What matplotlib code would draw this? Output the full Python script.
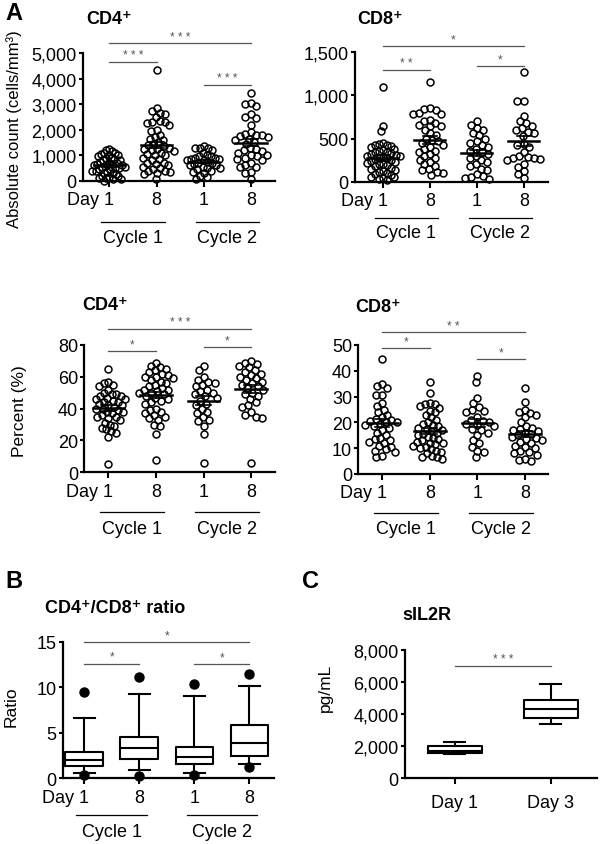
import numpy as np
import matplotlib.pyplot as plt
from matplotlib.ticker import FuncFormatter
from matplotlib.transforms import ScaledTranslation

plt.rcParams['font.family'] = ['Liberation Sans', 'DejaVu Sans']

#Data
x_labels = ['Day 1', '8', '1', '8']
cycle_labels = ['Cycle 1', 'Cycle 2']

cd4_abs_c1d1 = [1250, 1200, 1150, 1100, 1100, 1050, 1000, 1000, 950, 900, 900, 850, 800, 800, 750,
                700, 700, 650, 650, 600, 600, 600, 550, 550, 500, 500, 450, 450, 400, 400, 350,
                300, 300, 250, 200, 200, 150, 100, 100, 50, 50, 0]
cd4_abs_c1d8 = [4350, 2850, 2750, 2650, 2600, 2500, 2350, 2300, 2300, 2250, 2200, 2000, 1950, 1800,
                1700, 1650, 1600, 1500, 1450, 1400, 1350, 1300, 1250, 1250, 1200, 1150, 1100, 1050,
                1000, 1000, 900, 850, 800, 700, 700, 650, 600, 550, 500, 450, 400, 400, 350, 300, 250, 50]
cd4_abs_c2d1 = [1350, 1300, 1300, 1300, 1200, 1100, 1000, 950, 950, 900, 900, 850, 850, 800, 800,
                750, 700, 700, 650, 600, 600, 550, 500, 500, 450, 400, 350, 300, 200, 150, 50]
cd4_abs_c2d8 = [3450, 3050, 3000, 2950, 2600, 2500, 2450, 2200, 1900, 1850, 1800, 1800, 1750, 1700,
                1650, 1600, 1500, 1450, 1300, 1250, 1200, 1150, 1100, 1000, 1000, 950, 900, 850,
                800, 700, 600, 550, 550, 350, 300, 50]

cd8_abs_c1d1 = [1100, 650, 590, 450, 440, 430, 420, 410, 400, 380, 370, 360, 350, 340, 330, 320,
                310, 300, 300, 290, 280, 270, 260, 250, 240, 230, 220, 200, 200, 190, 180, 160,
                150, 140, 120, 110, 100, 90, 80, 60, 50, 40, 30, 20]
cd8_abs_c1d8 = [1160, 850, 840, 830, 800, 790, 780, 720, 700, 680, 660, 650, 640, 600, 560, 540,
                500, 480, 470, 450, 430, 400, 380, 360, 340, 320, 300, 280, 250, 230, 200, 180,
                150, 130, 110, 100, 80]
cd8_abs_c2d1 = [700, 660, 620, 600, 560, 540, 500, 470, 450, 420, 400, 380, 360, 340, 320, 300,
                280, 250, 230, 200, 180, 150, 130, 90, 70, 50, 40, 30]
cd8_abs_c2d8 = [1270, 940, 940, 760, 700, 680, 640, 620, 600, 580, 560, 530, 440, 430, 400, 350,
                300, 290, 280, 270, 260, 250, 200, 170, 120, 90, 40]

cd4_pct_c1d1 = [65, 57, 56, 55, 54, 52, 50, 49, 49, 48, 48, 47, 46, 46, 45, 44, 44, 43, 42, 42, 41,
                40, 40, 39, 38, 38, 37, 36, 35, 35, 34, 33, 31, 30, 29, 28, 27, 26, 25, 22, 5]
cd4_pct_c1d8 = [69, 67, 66, 65, 64, 63, 62, 61, 60, 60, 59, 58, 57, 56, 55, 54, 53, 52, 52, 51, 50,
                50, 49, 48, 47, 46, 45, 44, 43, 40, 39, 38, 37, 36, 35, 34, 33, 30, 29, 24, 8]
cd4_pct_c2d1 = [67, 64, 60, 58, 57, 56, 55, 54, 52, 51, 50, 49, 48, 47, 45, 43, 42, 40, 38, 37,
                35, 33, 32, 29, 24, 6]
cd4_pct_c2d8 = [70, 69, 68, 67, 66, 64, 63, 62, 61, 60, 59, 58, 57, 56, 55, 54, 53, 52, 50, 49,
                48, 46, 44, 42, 41, 38, 36, 35, 34, 6]

cd8_pct_c1d1 = [44.5, 35, 34, 33.5, 30.5, 30.5, 27.5, 26.5, 25, 24, 23, 22, 21.5, 21, 20.5, 20, 20,
                19.5, 19, 18.5, 18, 17, 16, 15, 14, 13.5, 13, 12.5, 12, 11, 10.5, 9.5, 9, 8.5, 7, 6.5]
cd8_pct_c1d8 = [35.5, 31.5, 27.5, 27, 27, 26.5, 25.5, 24.5, 24, 23, 22, 21, 20, 19.5, 19, 18.5, 18,
                17.5, 17, 16.5, 16, 15.5, 15, 14.5, 14, 13.5, 13, 12.5, 12, 12, 11.5, 11, 10.5, 10,
                9.5, 9, 8.5, 8, 7, 6.5, 6.5, 6]
cd8_pct_c2d1 = [38, 35.5, 29.5, 27.5, 26, 25, 24.5, 24, 22, 21, 20.5, 20, 19.5, 19, 18.5, 17.5, 17,
                16, 15, 13, 12, 10.5, 9, 8.5, 6.5]
cd8_pct_c2d8 = [33.5, 28, 25, 24, 23.5, 23, 22, 20, 18.5, 18, 17.5, 17, 16.5, 16, 15.5, 15, 14.5,
                14, 13.5, 13, 12.5, 12, 11, 10.5, 10, 9, 8.5, 8, 7.5, 6, 5.5, 5]

#Box plot summaries (whisker low, q1, median, q3, whisker high) and outliers
ratio_whislo = [0.6, 0.95, 0.6, 1.6]
ratio_q1 = [1.3, 2.1, 1.6, 2.4]
ratio_med = [2.0, 3.3, 2.35, 3.85]
ratio_q3 = [2.85, 4.55, 3.4, 5.85]
ratio_whishi = [6.6, 9.3, 9.0, 10.1]
ratio_fliers = [[9.5, 0.35], [11.1, 0.25], [10.4, 0.35], [11.5, 1.2]]

sil2r_labels = ['Day 1', 'Day 3']
sil2r_whislo = [1500, 3400]
sil2r_q1 = [1600, 3750]
sil2r_med = [1700, 4350]
sil2r_q3 = [2000, 4900]
sil2r_whishi = [2250, 5850]

W, H = 600, 845
fig = plt.figure(figsize=(6, 8.45), dpi=100)
GRAY = '#555555'


def rect(l, t, r, b):
    return [l / W, 1 - b / H, (r - l) / W, (b - t) / H]


def fy(py):
    return 1 - py / H


def style(ax, ylim, yticks, fmt=None):
    for s in ['top', 'right']:
        ax.spines[s].set_visible(False)
    for s in ['left', 'bottom']:
        ax.spines[s].set_linewidth(1.6)
    ax.set_ylim(*ylim)
    ax.set_yticks(yticks)
    if fmt:
        ax.yaxis.set_major_formatter(FuncFormatter(lambda v, p: '{:,.0f}'.format(v)))
    ax.tick_params(axis='y', length=3, width=1.5, pad=1.5, labelsize=13)
    ax.tick_params(axis='x', length=4, width=1.5, pad=3.5, labelsize=13)


def day_ticks(ax):
    ax.set_xticks([1, 2, 3, 4])
    ax.set_xticklabels(x_labels)
    lab = ax.get_xticklabels()[0]
    lab.set_horizontalalignment('right')
    lab.set_transform(lab.get_transform() + ScaledTranslation(0.05, 0, fig.dpi_scale_trans))


def cycles(ax, y_line, y_text, half=0.67):
    inv = fig.transFigure.inverted()
    for k, c in enumerate([1.5, 3.5]):
        x0 = inv.transform(ax.transData.transform((c - half, 0)))[0]
        x1 = inv.transform(ax.transData.transform((c + half, 0)))[0]
        xc = inv.transform(ax.transData.transform((c, 0)))[0]
        fig.add_artist(plt.Line2D([x0, x1], [fy(y_line), fy(y_line)], color='black', lw=0.9,
                                  transform=fig.transFigure))
        fig.text(xc, fy(y_text), cycle_labels[k], ha='center', va='center', fontsize=13)


def sig(ax, x1, x2, y, stars):
    ax.plot([x1, x2], [y, y], color=GRAY, lw=0.9, clip_on=False)
    ax.annotate(' '.join(stars), ((x1 + x2) / 2, y), xytext=(0, 0.5), textcoords='offset points',
                ha='center', va='bottom', fontsize=8.5, color=GRAY, annotation_clip=False)


def swarm(ax, vals, c, d=6.6, maxw=17.0):
    p0 = ax.transData.transform((0, 0))
    sx = ax.transData.transform((1, 0))[0] - p0[0]
    sy = ax.transData.transform((0, 1))[1] - p0[1]
    placed = []
    offs = np.zeros(len(vals))
    order = np.argsort(vals)[::-1]
    for i in order:
        y = vals[i] * sy
        bad = []
        for (px, py) in placed:
            dy = y - py
            if abs(dy) < d:
                w = np.sqrt(d * d - dy * dy)
                bad.append((px - w, px + w))
        cands = [0.0] + [b[0] for b in bad] + [b[1] for b in bad]
        cands = sorted(cands, key=abs)
        for cx in cands:
            if all(not (lo + 1e-6 < cx < hi - 1e-6) for lo, hi in bad):
                break
        placed.append((cx, y))
        offs[i] = cx
    #squeeze wide swarms so points overlap like the original
    widest = np.abs(offs).max()
    if widest > maxw:
        offs = offs * maxw / widest
    return c + offs / sx


def scatter_panel(ax, groups):
    for k, g in enumerate(groups):
        c = k + 1
        v = np.array(g, dtype=float)
        xs = swarm(ax, v, c)
        ax.plot(xs, v, 'o', mfc='none', mec='black', mew=1.1, ms=5, clip_on=False)
        m = v.mean()
        se = v.std(ddof=1) / np.sqrt(len(v))
        ax.plot([c - 0.33, c + 0.33], [m, m], color='black', lw=1.8, zorder=3)
        ax.plot([c, c], [m - se, m + se], color='black', lw=1.2, zorder=3)
        for e in [m - se, m + se]:
            ax.plot([c - 0.15, c + 0.15], [e, e], color='black', lw=1.2, zorder=3)


#Panel A: absolute counts and percentages
axes_info = [
    (rect(83, 54.3, 275, 181.7), (0.443, 4.51), (0, 5000), [0, 1000, 2000, 3000, 4000, 5000], True,
     [cd4_abs_c1d1, cd4_abs_c1d8, cd4_abs_c2d1, cd4_abs_c2d8],
     [(1, 4, 5390, '***'), (1, 2, 4670, '***'), (3, 4, 3770, '***')], (223, 239), 'CD4⁺', (86, 19)),
    (rect(355, 53.3, 548.3, 182.7), (0.404, 4.52), (0, 1500), [0, 500, 1000, 1500], True,
     [cd8_abs_c1d1, cd8_abs_c1d8, cd8_abs_c2d1, cd8_abs_c2d8],
     [(1, 4, 1570, '*'), (1, 2, 1300, '**'), (3, 4, 1345, '*')], (219, 234), 'CD8⁺', (357, 19)),
    (rect(84.3, 346, 275, 473.3), (0.496, 4.5), (0, 80), [0, 20, 40, 60, 80], False,
     [cd4_pct_c1d1, cd4_pct_c1d8, cd4_pct_c2d1, cd4_pct_c2d8],
     [(1, 4, 90, '***'), (1, 2, 76.2, '*'), (3, 4, 78.6, '*')], (513, 530), 'CD4⁺', (82, 306)),
    (rect(358.3, 346, 548.3, 475), (0.496, 4.49), (0, 50), [0, 10, 20, 30, 40, 50], False,
     [cd8_pct_c1d1, cd8_pct_c1d8, cd8_pct_c2d1, cd8_pct_c2d8],
     [(1, 4, 54.9, '**'), (1, 2, 48.7, '*'), (3, 4, 44.6, '*')], (514, 530), 'CD8⁺', (355, 308)),
]

axs = []
for pos, xl, yl, yt, fmt, groups, sigs, cyc, title, tpos in axes_info:
    ax = fig.add_axes(pos)
    ax.set_xlim(*xl)
    style(ax, yl, yt, fmt)
    day_ticks(ax)
    scatter_panel(ax, groups)
    for s in sigs:
        sig(ax, *s)
    cycles(ax, *cyc)
    fig.text(tpos[0] / W, fy(tpos[1]), title, ha='left', va='center', fontsize=13, fontweight='bold')
    axs.append(ax)

axs[0].set_ylabel('Absolute count (cells/mm³)', fontsize=12)
axs[0].yaxis.set_label_coords(-0.32, 0.41)
axs[2].set_ylabel('Percent (%)', fontsize=12.5)
axs[2].yaxis.set_label_coords(-0.30, 0.49)

#Panel B: CD4/CD8 ratio box plots
axb = fig.add_axes(rect(62.7, 642.7, 274, 779.3))
axb.set_xlim(0.61, 4.45)
style(axb, (0, 15), [0, 5, 10, 15])
stats = []
for i in range(4):
    stats.append(dict(whislo=ratio_whislo[i], q1=ratio_q1[i], med=ratio_med[i], q3=ratio_q3[i],
                      whishi=ratio_whishi[i], fliers=ratio_fliers[i]))
bp_kw = dict(boxprops=dict(lw=1.5, color='black'), medianprops=dict(lw=1.5, color='black'),
             whiskerprops=dict(lw=1.5, color='black'), capprops=dict(lw=1.5, color='black'))
axb.bxp(stats, positions=[1, 2, 3, 4], widths=0.68, capwidths=0.38, manage_ticks=False,
        flierprops=dict(marker='o', mfc='black', mec='black', ms=6.5, clip_on=False), **bp_kw)
day_ticks(axb)
for s in [(1, 4, 15.0, '*'), (1, 2, 12.6, '*'), (3, 4, 12.55, '*')]:
    sig(axb, *s)
cycles(axb, 815.7, 833, half=0.64)
axb.set_ylabel('Ratio', fontsize=12.5)
axb.yaxis.set_label_coords(-0.207, 0.53)
fig.text(45 / W, fy(609), 'CD4⁺/CD8⁺ ratio', ha='left', va='center', fontsize=13, fontweight='bold')

#Panel C: sIL2R
axc = fig.add_axes(rect(405, 651, 597, 779.3))
axc.set_xlim(0.48, 2.48)
style(axc, (0, 8000), [0, 2000, 4000, 6000, 8000], True)
stats_c = []
for i in range(2):
    stats_c.append(dict(whislo=sil2r_whislo[i], q1=sil2r_q1[i], med=sil2r_med[i], q3=sil2r_q3[i],
                        whishi=sil2r_whishi[i], fliers=[]))
axc.bxp(stats_c, positions=[1, 2], widths=0.56, capwidths=0.22, manage_ticks=False, **bp_kw)
axc.set_xticks([1, 2])
axc.set_xticklabels(sil2r_labels)
axc.tick_params(axis='x', pad=7)
sig(axc, 1, 2, 7000, '***')
axc.set_ylabel('pg/mL', fontsize=12.5)
axc.yaxis.set_label_coords(-0.375, 0.71)
fig.text(402 / W, fy(616), 'sIL2R', ha='left', va='center', fontsize=13, fontweight='bold')

#Panel letters
fig.text(5 / W, fy(14), 'A', ha='left', va='center', fontsize=17, fontweight='bold')
fig.text(5 / W, fy(581), 'B', ha='left', va='center', fontsize=17, fontweight='bold')
fig.text(302 / W, fy(582), 'C', ha='left', va='center', fontsize=17, fontweight='bold')

fig.savefig('out.png', dpi=100)
